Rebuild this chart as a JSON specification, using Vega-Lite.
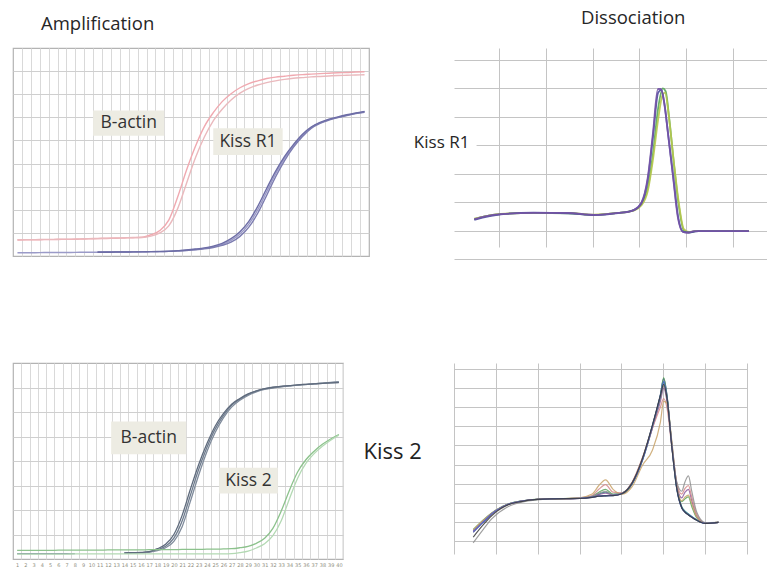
{
"$schema": "https://vega.github.io/schema/vega-lite/v6.json",
"padding": {"left": 12, "top": 8, "right": 0, "bottom": 0},
"background": "white",
"columns": 2,
"spacing": {"row": 104, "column": 85},
"bounds": "flush",
"resolve": {"scale": {"color": "independent"}},
"config": {
  "font": "Open Sans",
  "view": {"stroke": null},
  "axis": {"domain": false, "ticks": false, "labels": false, "gridWidth": 1},
  "title": {"fontWeight": "normal", "anchor": "start", "frame": "group", "baseline": "alphabetic", "fontSize": 18.5, "color": "#262626", "font": "Open Sans"}
},
"datasets": {
  "ampA": [
    {"w":"p1","c":1,"f":0.69},{"w":"p1","c":2,"f":0.70},{"w":"p1","c":3,"f":0.70},{"w":"p1","c":4,"f":0.71},{"w":"p1","c":5,"f":0.71},{"w":"p1","c":6,"f":0.72},{"w":"p1","c":7,"f":0.72},{"w":"p1","c":8,"f":0.73},{"w":"p1","c":9,"f":0.74},{"w":"p1","c":10,"f":0.75},
    {"w":"p1","c":11,"f":0.76},{"w":"p1","c":12,"f":0.77},{"w":"p1","c":13,"f":0.78},{"w":"p1","c":14,"f":0.79},{"w":"p1","c":15,"f":0.81},{"w":"p1","c":16,"f":0.92},{"w":"p1","c":17,"f":1.10},{"w":"p1","c":18,"f":1.55},{"w":"p1","c":19,"f":2.55},{"w":"p1","c":20,"f":3.72},
    {"w":"p1","c":21,"f":4.75},{"w":"p1","c":22,"f":5.60},{"w":"p1","c":23,"f":6.20},{"w":"p1","c":24,"f":6.68},{"w":"p1","c":25,"f":7.02},{"w":"p1","c":26,"f":7.28},{"w":"p1","c":27,"f":7.46},{"w":"p1","c":28,"f":7.58},{"w":"p1","c":29,"f":7.68},{"w":"p1","c":30,"f":7.74},
    {"w":"p1","c":31,"f":7.78},{"w":"p1","c":32,"f":7.82},{"w":"p1","c":33,"f":7.85},{"w":"p1","c":34,"f":7.87},{"w":"p1","c":35,"f":7.89},{"w":"p1","c":36,"f":7.91},{"w":"p1","c":37,"f":7.93},{"w":"p1","c":38,"f":7.94},{"w":"p1","c":39,"f":7.96},{"w":"p1","c":40,"f":7.97},
    {"w":"p2","c":1,"f":0.70},{"w":"p2","c":2,"f":0.71},{"w":"p2","c":3,"f":0.71},{"w":"p2","c":4,"f":0.72},{"w":"p2","c":5,"f":0.72},{"w":"p2","c":6,"f":0.73},{"w":"p2","c":7,"f":0.73},{"w":"p2","c":8,"f":0.74},{"w":"p2","c":9,"f":0.75},{"w":"p2","c":10,"f":0.76},
    {"w":"p2","c":11,"f":0.77},{"w":"p2","c":12,"f":0.78},{"w":"p2","c":13,"f":0.79},{"w":"p2","c":14,"f":0.80},{"w":"p2","c":15,"f":0.80},{"w":"p2","c":16,"f":0.86},{"w":"p2","c":17,"f":1.00},{"w":"p2","c":18,"f":1.30},{"w":"p2","c":19,"f":2.05},{"w":"p2","c":20,"f":3.15},
    {"w":"p2","c":21,"f":4.25},{"w":"p2","c":22,"f":5.15},{"w":"p2","c":23,"f":5.85},{"w":"p2","c":24,"f":6.35},{"w":"p2","c":25,"f":6.75},{"w":"p2","c":26,"f":7.05},{"w":"p2","c":27,"f":7.25},{"w":"p2","c":28,"f":7.40},{"w":"p2","c":29,"f":7.50},{"w":"p2","c":30,"f":7.58},
    {"w":"p2","c":31,"f":7.64},{"w":"p2","c":32,"f":7.69},{"w":"p2","c":33,"f":7.72},{"w":"p2","c":34,"f":7.75},{"w":"p2","c":35,"f":7.77},{"w":"p2","c":36,"f":7.79},{"w":"p2","c":37,"f":7.81},{"w":"p2","c":38,"f":7.82},{"w":"p2","c":39,"f":7.83},{"w":"p2","c":40,"f":7.84},
    {"w":"b1","c":1,"f":0.14},{"w":"b1","c":2,"f":0.14},{"w":"b1","c":3,"f":0.14},{"w":"b1","c":4,"f":0.15},{"w":"b1","c":5,"f":0.15},{"w":"b1","c":6,"f":0.15},{"w":"b1","c":7,"f":0.15},{"w":"b1","c":8,"f":0.16},{"w":"b1","c":9,"f":0.16},{"w":"b1","c":10,"f":0.16},
    {"w":"b1","c":11,"f":0.17},{"w":"b1","c":12,"f":0.17},{"w":"b1","c":13,"f":0.17},{"w":"b1","c":14,"f":0.18},{"w":"b1","c":15,"f":0.18},{"w":"b1","c":16,"f":0.19},{"w":"b1","c":17,"f":0.19},{"w":"b1","c":18,"f":0.20},{"w":"b1","c":19,"f":0.22},{"w":"b1","c":20,"f":0.25},
    {"w":"b1","c":21,"f":0.28},{"w":"b1","c":22,"f":0.33},{"w":"b1","c":23,"f":0.40},{"w":"b1","c":24,"f":0.50},{"w":"b1","c":25,"f":0.68},{"w":"b1","c":26,"f":0.95},{"w":"b1","c":27,"f":1.38},{"w":"b1","c":28,"f":2.00},{"w":"b1","c":29,"f":2.78},{"w":"b1","c":30,"f":3.55},
    {"w":"b1","c":31,"f":4.22},{"w":"b1","c":32,"f":4.76},{"w":"b1","c":33,"f":5.22},{"w":"b1","c":34,"f":5.56},{"w":"b1","c":35,"f":5.76},{"w":"b1","c":36,"f":5.90},{"w":"b1","c":37,"f":6.00},{"w":"b1","c":38,"f":6.09},{"w":"b1","c":39,"f":6.17},{"w":"b1","c":40,"f":6.24},
    {"w":"b2","c":10,"f":0.17},{"w":"b2","c":11,"f":0.17},{"w":"b2","c":12,"f":0.18},{"w":"b2","c":13,"f":0.18},{"w":"b2","c":14,"f":0.18},{"w":"b2","c":15,"f":0.19},{"w":"b2","c":16,"f":0.19},{"w":"b2","c":17,"f":0.20},{"w":"b2","c":18,"f":0.21},{"w":"b2","c":19,"f":0.22},
    {"w":"b2","c":20,"f":0.24},{"w":"b2","c":21,"f":0.27},{"w":"b2","c":22,"f":0.31},{"w":"b2","c":23,"f":0.37},{"w":"b2","c":24,"f":0.46},{"w":"b2","c":25,"f":0.60},{"w":"b2","c":26,"f":0.85},{"w":"b2","c":27,"f":1.25},{"w":"b2","c":28,"f":1.85},{"w":"b2","c":29,"f":2.62},
    {"w":"b2","c":30,"f":3.42},{"w":"b2","c":31,"f":4.12},{"w":"b2","c":32,"f":4.70},{"w":"b2","c":33,"f":5.16},{"w":"b2","c":34,"f":5.52},{"w":"b2","c":35,"f":5.74},{"w":"b2","c":36,"f":5.88},{"w":"b2","c":37,"f":5.99},{"w":"b2","c":38,"f":6.08},{"w":"b2","c":39,"f":6.16},{"w":"b2","c":40,"f":6.22},
    {"w":"b3","c":10,"f":0.16},{"w":"b3","c":11,"f":0.16},{"w":"b3","c":12,"f":0.17},{"w":"b3","c":13,"f":0.17},{"w":"b3","c":14,"f":0.18},{"w":"b3","c":15,"f":0.18},{"w":"b3","c":16,"f":0.19},{"w":"b3","c":17,"f":0.19},{"w":"b3","c":18,"f":0.20},{"w":"b3","c":19,"f":0.23},
    {"w":"b3","c":20,"f":0.26},{"w":"b3","c":21,"f":0.30},{"w":"b3","c":22,"f":0.35},{"w":"b3","c":23,"f":0.43},{"w":"b3","c":24,"f":0.55},{"w":"b3","c":25,"f":0.75},{"w":"b3","c":26,"f":1.05},{"w":"b3","c":27,"f":1.50},{"w":"b3","c":28,"f":2.15},{"w":"b3","c":29,"f":2.92},
    {"w":"b3","c":30,"f":3.66},{"w":"b3","c":31,"f":4.30},{"w":"b3","c":32,"f":4.82},{"w":"b3","c":33,"f":5.26},{"w":"b3","c":34,"f":5.58},{"w":"b3","c":35,"f":5.78},{"w":"b3","c":36,"f":5.92},{"w":"b3","c":37,"f":6.02},{"w":"b3","c":38,"f":6.11},{"w":"b3","c":39,"f":6.19},{"w":"b3","c":40,"f":6.26}
  ],
  "boxA": [
    {"label":"B-actin","c1":9.5,"c2":17.5,"v1":5.2,"v2":6.3,"cx":13.5,"cy":5.75},
    {"label":"Kiss R1","c1":23.0,"c2":30.8,"v1":4.37,"v2":5.53,"cx":26.9,"cy":4.95}
  ],
  "maskB": [{"t1": 60.19, "t2": 62.6, "f1": 3.72, "f2": 4.45}],
  "labB": [{"label": "Kiss R1", "t": 55.9, "f": 4.08}],
  "dissB": [
    {"w":"kg","t":62.36,"f":1.40},{"w":"kg","t":63.5,"f":1.50},{"w":"kg","t":65.2,"f":1.58},{"w":"kg","t":68.7,"f":1.62},{"w":"kg","t":72.4,"f":1.61},{"w":"kg","t":74.0,"f":1.57},{"w":"kg","t":75.15,"f":1.55},{"w":"kg","t":76.5,"f":1.58},{"w":"kg","t":77.7,"f":1.62},{"w":"kg","t":78.8,"f":1.66},{"w":"kg","t":79.4,"f":1.72},{"w":"kg","t":80.2,"f":1.92},{"w":"kg","t":80.9,"f":2.50},{"w":"kg","t":81.45,"f":3.70},{"w":"kg","t":82.0,"f":5.30},{"w":"kg","t":82.5,"f":6.00},{"w":"kg","t":82.8,"f":5.90},{"w":"kg","t":83.2,"f":4.90},{"w":"kg","t":83.7,"f":3.30},{"w":"kg","t":84.2,"f":1.90},{"w":"kg","t":84.75,"f":1.00},{"w":"kg","t":85.3,"f":0.93},{"w":"kg","t":86.0,"f":0.98},{"w":"kg","t":88.0,"f":0.98},{"w":"kg","t":91.7,"f":0.98},
    {"w":"ky","t":62.36,"f":1.42},{"w":"ky","t":65.2,"f":1.59},{"w":"ky","t":68.7,"f":1.62},{"w":"ky","t":72.4,"f":1.62},{"w":"ky","t":75.15,"f":1.56},{"w":"ky","t":77.7,"f":1.62},{"w":"ky","t":79.4,"f":1.70},{"w":"ky","t":80.2,"f":1.88},{"w":"ky","t":80.9,"f":2.40},{"w":"ky","t":81.45,"f":3.50},{"w":"ky","t":82.0,"f":4.90},{"w":"ky","t":82.45,"f":5.75},{"w":"ky","t":82.75,"f":5.85},{"w":"ky","t":83.15,"f":5.00},{"w":"ky","t":83.65,"f":3.50},{"w":"ky","t":84.2,"f":2.00},{"w":"ky","t":84.75,"f":1.05},{"w":"ky","t":85.3,"f":0.95},{"w":"ky","t":86.0,"f":0.98},{"w":"ky","t":88.0,"f":0.98},{"w":"ky","t":91.7,"f":0.98},
    {"w":"kv","t":62.36,"f":1.38},{"w":"kv","t":65.2,"f":1.57},{"w":"kv","t":68.7,"f":1.63},{"w":"kv","t":72.4,"f":1.61},{"w":"kv","t":75.15,"f":1.54},{"w":"kv","t":77.7,"f":1.61},{"w":"kv","t":79.4,"f":1.72},{"w":"kv","t":80.2,"f":1.95},{"w":"kv","t":80.9,"f":2.80},{"w":"kv","t":81.45,"f":4.30},{"w":"kv","t":82.0,"f":5.85},{"w":"kv","t":82.35,"f":5.95},{"w":"kv","t":82.7,"f":5.40},{"w":"kv","t":83.1,"f":4.30},{"w":"kv","t":83.65,"f":2.80},{"w":"kv","t":84.15,"f":1.45},{"w":"kv","t":84.7,"f":0.95},{"w":"kv","t":85.5,"f":0.94},{"w":"kv","t":86.3,"f":0.98},{"w":"kv","t":88.0,"f":0.98},{"w":"kv","t":91.7,"f":0.98},
    {"w":"kp","t":62.36,"f":1.40},{"w":"kp","t":63.5,"f":1.50},{"w":"kp","t":65.2,"f":1.58},{"w":"kp","t":68.7,"f":1.62},{"w":"kp","t":72.4,"f":1.62},{"w":"kp","t":74.0,"f":1.58},{"w":"kp","t":75.15,"f":1.55},{"w":"kp","t":76.5,"f":1.58},{"w":"kp","t":77.7,"f":1.62},{"w":"kp","t":78.8,"f":1.66},{"w":"kp","t":79.4,"f":1.72},{"w":"kp","t":80.2,"f":1.97},{"w":"kp","t":80.9,"f":2.88},{"w":"kp","t":81.45,"f":4.43},{"w":"kp","t":81.98,"f":5.98},{"w":"kp","t":82.3,"f":5.98},{"w":"kp","t":82.6,"f":5.59},{"w":"kp","t":83.05,"f":4.43},{"w":"kp","t":83.6,"f":2.88},{"w":"kp","t":84.1,"f":1.48},{"w":"kp","t":84.65,"f":0.95},{"w":"kp","t":85.2,"f":0.92},{"w":"kp","t":85.8,"f":0.98},{"w":"kp","t":86.25,"f":0.98},{"w":"kp","t":88.0,"f":0.98},{"w":"kp","t":91.7,"f":0.98}
  ],
  "ampC": [
    {"w":"g0","c":1,"f":0.22},{"w":"g0","c":2,"f":0.22},{"w":"g0","c":3,"f":0.22},{"w":"g0","c":4,"f":0.22},{"w":"g0","c":5,"f":0.22},{"w":"g0","c":6,"f":0.22},{"w":"g0","c":7,"f":0.22},{"w":"g0","c":8,"f":0.22},
    {"w":"g1","c":14,"f":0.24},{"w":"g1","c":15,"f":0.25},{"w":"g1","c":16,"f":0.26},{"w":"g1","c":17,"f":0.28},{"w":"g1","c":18,"f":0.38},{"w":"g1","c":19,"f":0.52},{"w":"g1","c":20,"f":0.85},{"w":"g1","c":21,"f":1.55},{"w":"g1","c":22,"f":2.60},{"w":"g1","c":23,"f":3.65},
    {"w":"g1","c":24,"f":4.55},{"w":"g1","c":25,"f":5.30},{"w":"g1","c":26,"f":5.85},{"w":"g1","c":27,"f":6.27},{"w":"g1","c":28,"f":6.52},{"w":"g1","c":29,"f":6.72},{"w":"g1","c":30,"f":6.85},{"w":"g1","c":31,"f":6.94},{"w":"g1","c":32,"f":7.00},{"w":"g1","c":33,"f":7.04},
    {"w":"g1","c":34,"f":7.07},{"w":"g1","c":35,"f":7.10},{"w":"g1","c":36,"f":7.12},{"w":"g1","c":37,"f":7.15},{"w":"g1","c":38,"f":7.17},{"w":"g1","c":39,"f":7.19},{"w":"g1","c":40,"f":7.21},
    {"w":"g2","c":14,"f":0.24},{"w":"g2","c":15,"f":0.25},{"w":"g2","c":16,"f":0.26},{"w":"g2","c":17,"f":0.28},{"w":"g2","c":18,"f":0.34},{"w":"g2","c":19,"f":0.46},{"w":"g2","c":20,"f":0.72},{"w":"g2","c":21,"f":1.32},{"w":"g2","c":22,"f":2.35},{"w":"g2","c":23,"f":3.42},
    {"w":"g2","c":24,"f":4.38},{"w":"g2","c":25,"f":5.16},{"w":"g2","c":26,"f":5.76},{"w":"g2","c":27,"f":6.20},{"w":"g2","c":28,"f":6.48},{"w":"g2","c":29,"f":6.68},{"w":"g2","c":30,"f":6.82},{"w":"g2","c":31,"f":6.92},{"w":"g2","c":32,"f":6.98},{"w":"g2","c":33,"f":7.03},
    {"w":"g2","c":34,"f":7.07},{"w":"g2","c":35,"f":7.10},{"w":"g2","c":36,"f":7.13},{"w":"g2","c":37,"f":7.16},{"w":"g2","c":38,"f":7.18},{"w":"g2","c":39,"f":7.21},{"w":"g2","c":40,"f":7.24},
    {"w":"g3","c":14,"f":0.25},{"w":"g3","c":15,"f":0.26},{"w":"g3","c":16,"f":0.27},{"w":"g3","c":17,"f":0.30},{"w":"g3","c":18,"f":0.42},{"w":"g3","c":19,"f":0.60},{"w":"g3","c":20,"f":1.00},{"w":"g3","c":21,"f":1.78},{"w":"g3","c":22,"f":2.85},{"w":"g3","c":23,"f":3.85},
    {"w":"g3","c":24,"f":4.70},{"w":"g3","c":25,"f":5.42},{"w":"g3","c":26,"f":5.93},{"w":"g3","c":27,"f":6.32},{"w":"g3","c":28,"f":6.55},{"w":"g3","c":29,"f":6.74},{"w":"g3","c":30,"f":6.86},{"w":"g3","c":31,"f":6.95},{"w":"g3","c":32,"f":7.01},{"w":"g3","c":33,"f":7.05},
    {"w":"g3","c":34,"f":7.08},{"w":"g3","c":35,"f":7.11},{"w":"g3","c":36,"f":7.13},{"w":"g3","c":37,"f":7.15},{"w":"g3","c":38,"f":7.17},{"w":"g3","c":39,"f":7.19},{"w":"g3","c":40,"f":7.20},
    {"w":"n1","c":1,"f":0.35},{"w":"n1","c":2,"f":0.35},{"w":"n1","c":3,"f":0.35},{"w":"n1","c":4,"f":0.35},{"w":"n1","c":5,"f":0.35},{"w":"n1","c":6,"f":0.36},{"w":"n1","c":7,"f":0.36},{"w":"n1","c":8,"f":0.36},{"w":"n1","c":9,"f":0.36},{"w":"n1","c":10,"f":0.36},
    {"w":"n1","c":11,"f":0.36},{"w":"n1","c":12,"f":0.37},{"w":"n1","c":13,"f":0.37},{"w":"n1","c":14,"f":0.37},{"w":"n1","c":15,"f":0.37},{"w":"n1","c":16,"f":0.37},{"w":"n1","c":17,"f":0.38},{"w":"n1","c":18,"f":0.38},{"w":"n1","c":19,"f":0.38},{"w":"n1","c":20,"f":0.38},
    {"w":"n1","c":21,"f":0.39},{"w":"n1","c":22,"f":0.39},{"w":"n1","c":23,"f":0.39},{"w":"n1","c":24,"f":0.40},{"w":"n1","c":25,"f":0.40},{"w":"n1","c":26,"f":0.41},{"w":"n1","c":27,"f":0.42},{"w":"n1","c":28,"f":0.46},{"w":"n1","c":29,"f":0.52},{"w":"n1","c":30,"f":0.64},
    {"w":"n1","c":31,"f":0.85},{"w":"n1","c":32,"f":1.25},{"w":"n1","c":33,"f":1.95},{"w":"n1","c":34,"f":2.80},{"w":"n1","c":35,"f":3.55},{"w":"n1","c":36,"f":4.05},{"w":"n1","c":37,"f":4.40},{"w":"n1","c":38,"f":4.68},{"w":"n1","c":39,"f":4.90},{"w":"n1","c":40,"f":5.08},
    {"w":"n2","c":1,"f":0.20},{"w":"n2","c":2,"f":0.20},{"w":"n2","c":3,"f":0.20},{"w":"n2","c":4,"f":0.20},{"w":"n2","c":5,"f":0.20},{"w":"n2","c":6,"f":0.20},{"w":"n2","c":7,"f":0.20},{"w":"n2","c":8,"f":0.21},{"w":"n2","c":9,"f":0.21},{"w":"n2","c":10,"f":0.21},
    {"w":"n2","c":11,"f":0.21},{"w":"n2","c":12,"f":0.21},{"w":"n2","c":13,"f":0.21},{"w":"n2","c":14,"f":0.21},{"w":"n2","c":15,"f":0.21},{"w":"n2","c":16,"f":0.21},{"w":"n2","c":17,"f":0.21},{"w":"n2","c":18,"f":0.21},{"w":"n2","c":19,"f":0.21},{"w":"n2","c":20,"f":0.21},
    {"w":"n2","c":21,"f":0.21},{"w":"n2","c":22,"f":0.21},{"w":"n2","c":23,"f":0.21},{"w":"n2","c":24,"f":0.21},{"w":"n2","c":25,"f":0.21},{"w":"n2","c":26,"f":0.21},{"w":"n2","c":27,"f":0.22},{"w":"n2","c":28,"f":0.26},{"w":"n2","c":29,"f":0.32},{"w":"n2","c":30,"f":0.45},
    {"w":"n2","c":31,"f":0.62},{"w":"n2","c":32,"f":0.95},{"w":"n2","c":33,"f":1.55},{"w":"n2","c":34,"f":2.45},{"w":"n2","c":35,"f":3.30},{"w":"n2","c":36,"f":3.90},{"w":"n2","c":37,"f":4.30},{"w":"n2","c":38,"f":4.60},{"w":"n2","c":39,"f":4.85},{"w":"n2","c":40,"f":5.05}
  ],
  "boxC": [
    {"label":"B-actin","c1":12.4,"c2":21.5,"v1":4.28,"v2":5.61,"cx":16.95,"cy":4.95},
    {"label":"Kiss 2","c1":25.5,"c2":32.6,"v1":2.67,"v2":3.72,"cx":29.05,"cy":3.2}
  ],
  "dissD": [
    {"w":"d1","t":62.3,"f":1.45},{"w":"d1","t":63.5,"f":1.98},{"w":"d1","t":64.5,"f":2.40},{"w":"d1","t":66.5,"f":2.92},{"w":"d1","t":68,"f":3.08},{"w":"d1","t":70,"f":3.18},{"w":"d1","t":72,"f":3.20},{"w":"d1","t":75,"f":3.22},{"w":"d1","t":76.5,"f":3.28},{"w":"d1","t":77.3,"f":3.34},{"w":"d1","t":78.1,"f":3.36},{"w":"d1","t":79,"f":3.37},{"w":"d1","t":80.1,"f":3.47},{"w":"d1","t":81.3,"f":4.00},{"w":"d1","t":82.5,"f":5.25},{"w":"d1","t":83.7,"f":7.05},{"w":"d1","t":84.65,"f":8.65},{"w":"d1","t":85.05,"f":9.50},{"w":"d1","t":85.45,"f":8.60},{"w":"d1","t":86.0,"f":6.05},{"w":"d1","t":86.6,"f":3.75},{"w":"d1","t":87.2,"f":2.72},{"w":"d1","t":87.6,"f":2.50},{"w":"d1","t":88.0,"f":2.36},{"w":"d1","t":88.4,"f":2.24},{"w":"d1","t":89.0,"f":2.08},{"w":"d1","t":90.0,"f":1.92},{"w":"d1","t":91.6,"f":1.97},
    {"w":"d2","t":62.3,"f":1.55},{"w":"d2","t":63.5,"f":2.05},{"w":"d2","t":64.5,"f":2.44},{"w":"d2","t":66.5,"f":2.93},{"w":"d2","t":68,"f":3.08},{"w":"d2","t":70,"f":3.17},{"w":"d2","t":72,"f":3.20},{"w":"d2","t":75,"f":3.24},{"w":"d2","t":76.5,"f":3.32},{"w":"d2","t":77.3,"f":3.45},{"w":"d2","t":78.1,"f":3.55},{"w":"d2","t":79,"f":3.42},{"w":"d2","t":80.1,"f":3.50},{"w":"d2","t":81.3,"f":4.05},{"w":"d2","t":82.5,"f":5.30},{"w":"d2","t":83.7,"f":7.00},{"w":"d2","t":84.65,"f":8.55},{"w":"d2","t":85.05,"f":9.30},{"w":"d2","t":85.45,"f":8.50},{"w":"d2","t":86.0,"f":6.10},{"w":"d2","t":86.6,"f":3.80},{"w":"d2","t":87.2,"f":2.80},{"w":"d2","t":87.6,"f":2.56},{"w":"d2","t":88.0,"f":2.42},{"w":"d2","t":88.4,"f":2.28},{"w":"d2","t":89.0,"f":2.10},{"w":"d2","t":90.0,"f":1.93},{"w":"d2","t":91.6,"f":1.97},
    {"w":"d3","t":62.3,"f":1.60},{"w":"d3","t":63.5,"f":2.10},{"w":"d3","t":64.5,"f":2.46},{"w":"d3","t":66.5,"f":2.94},{"w":"d3","t":68,"f":3.09},{"w":"d3","t":70,"f":3.19},{"w":"d3","t":72,"f":3.21},{"w":"d3","t":75,"f":3.24},{"w":"d3","t":76.5,"f":3.34},{"w":"d3","t":77.3,"f":3.55},{"w":"d3","t":78.1,"f":3.70},{"w":"d3","t":79,"f":3.45},{"w":"d3","t":80.1,"f":3.48},{"w":"d3","t":81.3,"f":4.00},{"w":"d3","t":82.5,"f":5.20},{"w":"d3","t":83.7,"f":6.95},{"w":"d3","t":84.65,"f":8.60},{"w":"d3","t":85.05,"f":9.55},{"w":"d3","t":85.45,"f":8.55},{"w":"d3","t":86.0,"f":6.15},{"w":"d3","t":86.6,"f":3.90},{"w":"d3","t":87.2,"f":3.05},{"w":"d3","t":87.6,"f":3.20},{"w":"d3","t":88.0,"f":3.30},{"w":"d3","t":88.4,"f":2.80},{"w":"d3","t":89.0,"f":2.20},{"w":"d3","t":90.0,"f":1.93},{"w":"d3","t":91.6,"f":1.97},
    {"w":"d4","t":62.3,"f":1.50},{"w":"d4","t":63.5,"f":2.02},{"w":"d4","t":64.5,"f":2.42},{"w":"d4","t":66.5,"f":2.92},{"w":"d4","t":68,"f":3.07},{"w":"d4","t":70,"f":3.18},{"w":"d4","t":72,"f":3.19},{"w":"d4","t":75,"f":3.23},{"w":"d4","t":76.5,"f":3.30},{"w":"d4","t":77.3,"f":3.42},{"w":"d4","t":78.1,"f":3.50},{"w":"d4","t":79,"f":3.40},{"w":"d4","t":80.1,"f":3.50},{"w":"d4","t":81.3,"f":4.05},{"w":"d4","t":82.5,"f":5.25},{"w":"d4","t":83.7,"f":6.90},{"w":"d4","t":84.65,"f":8.30},{"w":"d4","t":85.05,"f":9.00},{"w":"d4","t":85.45,"f":8.30},{"w":"d4","t":86.0,"f":6.20},{"w":"d4","t":86.6,"f":4.00},{"w":"d4","t":87.2,"f":3.25},{"w":"d4","t":87.6,"f":3.55},{"w":"d4","t":88.0,"f":3.70},{"w":"d4","t":88.4,"f":3.10},{"w":"d4","t":89.0,"f":2.30},{"w":"d4","t":90.0,"f":1.94},{"w":"d4","t":91.6,"f":1.97},
    {"w":"d5","t":62.3,"f":1.52},{"w":"d5","t":63.5,"f":2.04},{"w":"d5","t":64.5,"f":2.43},{"w":"d5","t":66.5,"f":2.93},{"w":"d5","t":68,"f":3.08},{"w":"d5","t":70,"f":3.18},{"w":"d5","t":72,"f":3.20},{"w":"d5","t":75,"f":3.25},{"w":"d5","t":76.5,"f":3.38},{"w":"d5","t":77.3,"f":3.70},{"w":"d5","t":78.1,"f":3.95},{"w":"d5","t":79,"f":3.55},{"w":"d5","t":80.1,"f":3.52},{"w":"d5","t":81.3,"f":4.10},{"w":"d5","t":82.5,"f":5.35},{"w":"d5","t":83.7,"f":6.90},{"w":"d5","t":84.65,"f":8.00},{"w":"d5","t":85.05,"f":8.45},{"w":"d5","t":85.45,"f":7.95},{"w":"d5","t":86.0,"f":6.00},{"w":"d5","t":86.6,"f":4.05},{"w":"d5","t":87.2,"f":3.45},{"w":"d5","t":87.6,"f":3.75},{"w":"d5","t":88.0,"f":3.90},{"w":"d5","t":88.4,"f":3.30},{"w":"d5","t":89.0,"f":2.40},{"w":"d5","t":90.0,"f":1.95},{"w":"d5","t":91.6,"f":1.97},
    {"w":"d6","t":62.3,"f":1.58},{"w":"d6","t":63.5,"f":2.08},{"w":"d6","t":64.5,"f":2.45},{"w":"d6","t":66.5,"f":2.93},{"w":"d6","t":68,"f":3.08},{"w":"d6","t":70,"f":3.18},{"w":"d6","t":72,"f":3.20},{"w":"d6","t":75,"f":3.26},{"w":"d6","t":76.5,"f":3.45},{"w":"d6","t":77.3,"f":3.90},{"w":"d6","t":78.1,"f":4.20},{"w":"d6","t":79,"f":3.70},{"w":"d6","t":80.1,"f":3.45},{"w":"d6","t":81.3,"f":3.85},{"w":"d6","t":82.5,"f":4.95},{"w":"d6","t":83.7,"f":5.75},{"w":"d6","t":84.65,"f":7.20},{"w":"d6","t":85.05,"f":8.30},{"w":"d6","t":85.45,"f":8.20},{"w":"d6","t":86.0,"f":6.30},{"w":"d6","t":86.6,"f":3.95},{"w":"d6","t":87.2,"f":3.10},{"w":"d6","t":87.6,"f":3.30},{"w":"d6","t":88.0,"f":3.40},{"w":"d6","t":88.4,"f":2.95},{"w":"d6","t":89.0,"f":2.25},{"w":"d6","t":90.0,"f":1.94},{"w":"d6","t":91.6,"f":1.97},
    {"w":"d7","t":62.3,"f":0.90},{"w":"d7","t":63.5,"f":1.60},{"w":"d7","t":64.5,"f":2.15},{"w":"d7","t":66.5,"f":2.80},{"w":"d7","t":68,"f":3.02},{"w":"d7","t":70,"f":3.15},{"w":"d7","t":72,"f":3.19},{"w":"d7","t":75,"f":3.24},{"w":"d7","t":76.5,"f":3.33},{"w":"d7","t":77.3,"f":3.50},{"w":"d7","t":78.1,"f":3.60},{"w":"d7","t":79,"f":3.42},{"w":"d7","t":80.1,"f":3.50},{"w":"d7","t":81.3,"f":4.05},{"w":"d7","t":82.5,"f":5.25},{"w":"d7","t":83.7,"f":6.95},{"w":"d7","t":84.65,"f":8.45},{"w":"d7","t":85.05,"f":9.10},{"w":"d7","t":85.45,"f":8.40},{"w":"d7","t":86.0,"f":6.15},{"w":"d7","t":86.6,"f":4.10},{"w":"d7","t":87.2,"f":3.60},{"w":"d7","t":87.6,"f":4.10},{"w":"d7","t":88.0,"f":4.40},{"w":"d7","t":88.4,"f":3.60},{"w":"d7","t":89.0,"f":2.50},{"w":"d7","t":90.0,"f":1.96},{"w":"d7","t":91.6,"f":1.97},
    {"w":"d8","t":62.3,"f":1.50},{"w":"d8","t":63.5,"f":2.00},{"w":"d8","t":64.5,"f":2.42},{"w":"d8","t":66.5,"f":2.93},{"w":"d8","t":68,"f":3.08},{"w":"d8","t":70,"f":3.18},{"w":"d8","t":72,"f":3.21},{"w":"d8","t":75,"f":3.23},{"w":"d8","t":76.5,"f":3.29},{"w":"d8","t":77.3,"f":3.35},{"w":"d8","t":78.1,"f":3.37},{"w":"d8","t":79,"f":3.38},{"w":"d8","t":80.1,"f":3.48},{"w":"d8","t":81.3,"f":4.02},{"w":"d8","t":82.5,"f":5.22},{"w":"d8","t":83.7,"f":7.00},{"w":"d8","t":84.65,"f":8.60},{"w":"d8","t":85.05,"f":9.35},{"w":"d8","t":85.45,"f":8.50},{"w":"d8","t":86.0,"f":6.05},{"w":"d8","t":86.6,"f":3.80},{"w":"d8","t":87.2,"f":2.75},{"w":"d8","t":87.6,"f":2.52},{"w":"d8","t":88.0,"f":2.38},{"w":"d8","t":88.4,"f":2.26},{"w":"d8","t":89.0,"f":2.09},{"w":"d8","t":90.0,"f":1.92},{"w":"d8","t":91.6,"f":1.97},
    {"w":"d9","t":62.3,"f":1.20},{"w":"d9","t":63.5,"f":1.85},{"w":"d9","t":64.5,"f":2.32},{"w":"d9","t":66.5,"f":2.90},{"w":"d9","t":68,"f":3.06},{"w":"d9","t":70,"f":3.17},{"w":"d9","t":72,"f":3.20},{"w":"d9","t":75,"f":3.22},{"w":"d9","t":76.5,"f":3.28},{"w":"d9","t":77.3,"f":3.34},{"w":"d9","t":78.1,"f":3.36},{"w":"d9","t":79,"f":3.37},{"w":"d9","t":80.1,"f":3.48},{"w":"d9","t":81.3,"f":4.05},{"w":"d9","t":82.5,"f":5.30},{"w":"d9","t":83.7,"f":7.05},{"w":"d9","t":84.65,"f":8.60},{"w":"d9","t":85.05,"f":9.20},{"w":"d9","t":85.45,"f":8.45},{"w":"d9","t":86.0,"f":6.00},{"w":"d9","t":86.6,"f":3.78},{"w":"d9","t":87.2,"f":2.75},{"w":"d9","t":87.6,"f":2.50},{"w":"d9","t":88.0,"f":2.36},{"w":"d9","t":88.4,"f":2.24},{"w":"d9","t":89.0,"f":2.08},{"w":"d9","t":90.0,"f":1.92},{"w":"d9","t":91.6,"f":1.97}
  ]
},
"concat": [
  {
    "width": 356, "height": 208,
    "view": {"stroke": "#b3b3b3", "strokeWidth": 1.2},
    "title": {"text": "Amplification", "dx": 28, "offset": 15},
    "layer": [
      {
        "data": {"name": "ampA"},
        "mark": {"type": "line", "interpolate": "monotone", "strokeWidth": 1.4},
        "encoding": {
          "x": {"field": "c", "type": "quantitative", "scale": {"domain": [0.5, 40.5]},
                "axis": {"title": null, "grid": true, "gridColor": "#d9d9d9", "tickCount": 200, "values": [1.5,2.5,3.5,4.5,5.5,6.5,7.5,8.5,9.5,10.5,11.5,12.5,13.5,14.5,15.5,16.5,17.5,18.5,19.5,20.5,21.5,22.5,23.5,24.5,25.5,26.5,27.5,28.5,29.5,30.5,31.5,32.5,33.5,34.5,35.5,36.5,37.5,38.5,39.5]}},
          "y": {"field": "f", "type": "quantitative", "scale": {"domain": [0, 9]},
                "axis": {"title": null, "grid": true, "gridColor": "#cfcfcf", "tickCount": 200, "values": [1,2,3,4,5,6,7,8]}},
          "color": {"field": "w", "type": "nominal", "legend": null,
                    "scale": {"domain": ["p1","p2","b1","b2","b3"], "range": ["#f0a9b0","#eab9bd","#9a9ac8","#7c7cb0","#6d6da6"]}}
        }
      },
      {
        "data": {"name": "boxA"},
        "mark": {"type": "rect", "fill": "#edece3"},
        "encoding": {
          "x": {"field": "c1", "type": "quantitative", "scale": {"domain": [0.5, 40.5]}, "axis": {"title": null, "tickCount": 200}},
          "x2": {"field": "c2"},
          "y": {"field": "v1", "type": "quantitative", "scale": {"domain": [0, 9]}, "axis": {"title": null, "tickCount": 200}},
          "y2": {"field": "v2"}
        }
      },
      {
        "data": {"name": "boxA"},
        "mark": {"type": "text", "fontSize": 17.5, "color": "#333333", "font": "Open Sans"},
        "encoding": {
          "x": {"field": "cx", "type": "quantitative", "scale": {"domain": [0.5, 40.5]}, "axis": {"title": null, "tickCount": 200}},
          "y": {"field": "cy", "type": "quantitative", "scale": {"domain": [0, 9]}, "axis": {"title": null, "tickCount": 200}},
          "text": {"field": "label"}
        }
      }
    ]
  },
  {
    "width": 314, "height": 211,
    "title": {"text": "Dissociation", "dx": 127, "offset": 21},
    "layer": [
      {
        "data": {"name": "dissB"},
        "mark": {"type": "line", "interpolate": "monotone", "strokeWidth": 1.8, "opacity": 0.9},
        "encoding": {
          "x": {"field": "t", "type": "quantitative", "scale": {"domain": [60.19, 93.74]},
                "axis": {"title": null, "grid": true, "gridColor": "#c4c4c4", "tickCount": 200, "values": [65,70,75,80,85,90]}},
          "y": {"field": "f", "type": "quantitative", "scale": {"domain": [0, 7], "range": [211, 12]},
                "axis": {"title": null, "grid": true, "gridColor": "#c4c4c4", "tickCount": 200, "values": [0,1,2,3,4,5,6,7]}},
          "color": {"field": "w", "type": "nominal", "legend": null, "sort": null,
                    "scale": {"domain": ["kg","ky","kv","kp"], "range": ["#5aa85a","#b7c84c","#4f4f9e","#7352a6"]}}
        }
      },
      {
        "data": {"name": "maskB"},
        "mark": {"type": "rect", "fill": "white"},
        "encoding": {
          "x": {"field": "t1", "type": "quantitative", "scale": {"domain": [60.19, 93.74]}, "axis": {"title": null, "tickCount": 200}},
          "x2": {"field": "t2"},
          "y": {"field": "f1", "type": "quantitative", "scale": {"domain": [0, 7], "range": [211, 12]}, "axis": {"title": null, "tickCount": 200}},
          "y2": {"field": "f2"}
        }
      },
      {
        "data": {"name": "labB"},
        "mark": {"type": "text", "align": "left", "baseline": "middle", "fontSize": 17, "color": "#262626", "font": "Open Sans"},
        "encoding": {
          "x": {"field": "t", "type": "quantitative", "scale": {"domain": [60.19, 93.74]}, "axis": {"title": null, "tickCount": 200}},
          "y": {"field": "f", "type": "quantitative", "scale": {"domain": [0, 7], "range": [211, 12]}, "axis": {"title": null, "tickCount": 200}},
          "text": {"field": "label"}
        }
      }
    ]
  },
  {
    "width": 330, "height": 196,
    "view": {"stroke": "#b3b3b3", "strokeWidth": 1.2},
    "layer": [
      {
        "data": {"name": "ampC"},
        "mark": {"type": "line", "interpolate": "monotone", "strokeWidth": 1.3},
        "encoding": {
          "x": {"field": "c", "type": "quantitative", "scale": {"domain": [0.5, 40.5]},
                "axis": {"title": null, "grid": true, "gridColor": "#d9d9d9", "labels": true, "labelExpr": "datum.value - 0.5", "tickCount": 200,
                         "labelOffset": -4.1, "labelFontSize": 5, "labelColor": "#8f8f80", "labelOverlap": false, "labelFlush": false, "labelPadding": 3, "labelFont": "DejaVu Sans",
                         "values": [1.5,2.5,3.5,4.5,5.5,6.5,7.5,8.5,9.5,10.5,11.5,12.5,13.5,14.5,15.5,16.5,17.5,18.5,19.5,20.5,21.5,22.5,23.5,24.5,25.5,26.5,27.5,28.5,29.5,30.5,31.5,32.5,33.5,34.5,35.5,36.5,37.5,38.5,39.5,40.5]}},
          "y": {"field": "f", "type": "quantitative", "scale": {"domain": [0, 8]},
                "axis": {"title": null, "grid": true, "gridColor": "#cfcfcf", "tickCount": 200, "values": [1,2,3,4,5,6,7]}},
          "color": {"field": "w", "type": "nominal", "legend": null,
                    "scale": {"domain": ["n2","n1","g0","g1","g2","g3"], "range": ["#b3d9b3","#8cc28c","#7f8ea0","#6f7c8e","#808c9c","#5f6b7d"]}}
        }
      },
      {
        "data": {"name": "boxC"},
        "mark": {"type": "rect", "fill": "#edece3"},
        "encoding": {
          "x": {"field": "c1", "type": "quantitative", "scale": {"domain": [0.5, 40.5]}, "axis": {"title": null, "tickCount": 200}},
          "x2": {"field": "c2"},
          "y": {"field": "v1", "type": "quantitative", "scale": {"domain": [0, 8]}, "axis": {"title": null, "tickCount": 200}},
          "y2": {"field": "v2"}
        }
      },
      {
        "data": {"name": "boxC"},
        "mark": {"type": "text", "fontSize": 17.5, "color": "#333333", "font": "Open Sans"},
        "encoding": {
          "x": {"field": "cx", "type": "quantitative", "scale": {"domain": [0.5, 40.5]}, "axis": {"title": null, "tickCount": 200}},
          "y": {"field": "cy", "type": "quantitative", "scale": {"domain": [0, 8]}, "axis": {"title": null, "tickCount": 200}},
          "text": {"field": "label"}
        }
      }
    ]
  },
  {
    "width": 293, "height": 197,
    "data": {"name": "dissD"},
    "mark": {"type": "line", "interpolate": "monotone", "strokeWidth": 1.2, "opacity": 0.85},
    "encoding": {
      "x": {"field": "t", "type": "quantitative", "scale": {"domain": [60, 95]},
            "axis": {"title": null, "grid": true, "gridColor": "#c4c4c4", "tickCount": 200, "values": [60,65,70,75,80,85,90,95]}},
      "y": {"field": "f", "type": "quantitative", "scale": {"domain": [0, 10], "range": [197, 6]},
            "axis": {"grid": true, "gridColor": "#c4c4c4", "tickCount": 200, "values": [1,2,3,4,5,6,7,8,9,10],
                     "title": "Kiss 2", "titleAngle": 0, "titleAlign": "left", "titleBaseline": "middle",
                     "titleX": -91, "titleY": 88, "titleFontSize": 22, "titleFontWeight": "normal", "titleColor": "#222222", "titleFont": "Open Sans"}},
      "color": {"field": "w", "type": "nominal", "legend": null,
                "scale": {"domain": ["d1","d2","d3","d4","d5","d6","d7","d8","d9"],
                          "range": ["#2c3e8c","#2f8f7f","#5aa55a","#8e5a9e","#d48a8a","#c9a36a","#8f8f8f","#4a62d0","#3a3a3a"]}}
    }
  }
]
}
